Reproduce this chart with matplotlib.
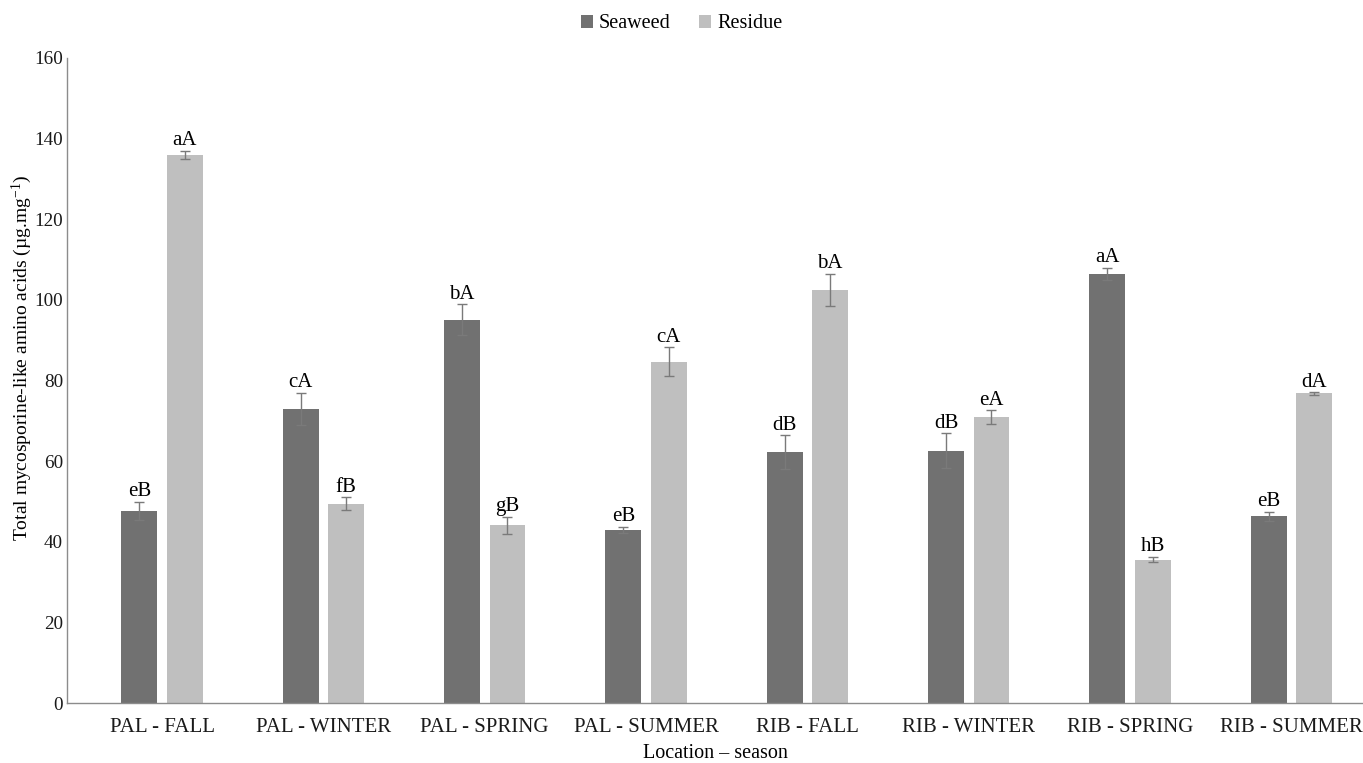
import numpy as np
import matplotlib.pyplot as plt

plt.rcParams['font.family'] = ['Liberation Serif', 'DejaVu Serif']
plt.rcParams['mathtext.fontset'] = 'custom'
plt.rcParams['mathtext.rm'] = 'Liberation Serif'
plt.rcParams['mathtext.default'] = 'regular'

# Total MAAs per location/season
categories = ['PAL - FALL', 'PAL - WINTER', 'PAL - SPRING', 'PAL - SUMMER',
              'RIB - FALL', 'RIB - WINTER', 'RIB - SPRING', 'RIB - SUMMER']
seaweed = [47.6, 72.9, 95.1, 42.9, 62.2, 62.6, 106.4, 46.3]
seaweed_err = [2.3, 4.0, 3.8, 0.8, 4.2, 4.3, 1.5, 1.2]
residue = [135.9, 49.4, 44.1, 84.7, 102.5, 70.9, 35.6, 76.8]
residue_err = [1.0, 1.6, 2.1, 3.5, 3.9, 1.7, 0.7, 0.3]
seaweed_lbl = ['eB', 'cA', 'bA', 'eB', 'dB', 'dB', 'aA', 'eB']
residue_lbl = ['aA', 'fB', 'gB', 'cA', 'bA', 'eA', 'hB', 'dA']

fig = plt.figure(figsize=(13.63, 7.63), dpi=100)
ax = fig.add_axes([0.0492, 0.0786, 0.9508, 0.8454])

x = np.arange(len(categories))
w = 0.222
off = 0.141
err_kw = dict(ecolor='#7a7a7a', elinewidth=1.0, capsize=3.5, capthick=1.0)
ax.bar(x - off, seaweed, w, yerr=seaweed_err, color='#717171', label='Seaweed',
       error_kw=err_kw, zorder=2)
ax.bar(x + off, residue, w, yerr=residue_err, color='#bfbfbf', label='Residue',
       error_kw=err_kw, zorder=2)

# significance letters above the error bars
for i in range(len(categories)):
    ax.annotate(seaweed_lbl[i], (x[i] - off, seaweed[i] + seaweed_err[i]),
                xytext=(0, 0.5), textcoords='offset points',
                ha='center', va='bottom', fontsize=15)
    ax.annotate(residue_lbl[i], (x[i] + off, residue[i] + residue_err[i]),
                xytext=(0, 0.5), textcoords='offset points',
                ha='center', va='bottom', fontsize=15)

ax.set_xlim(-0.589, 7.444)
ax.set_ylim(0, 160)
ax.set_yticks(np.arange(0, 161, 20))
ax.set_xticks(x)
ax.set_xticklabels(categories)
ax.tick_params(axis='both', length=0, colors='#1a1a1a')
ax.tick_params(axis='x', pad=11, labelsize=15)
ax.tick_params(axis='y', pad=3, labelsize=13.8)

for s in ['top', 'right']:
    ax.spines[s].set_visible(False)
for s in ['left', 'bottom']:
    ax.spines[s].set_color('#8c8c8c')
    ax.spines[s].set_linewidth(1.0)

ax.set_xlabel('Location \u2013 season', fontsize=14.5, labelpad=5)
fig.text(22 / 1363, 1 - 358 / 763,
         'Total mycosporine-like amino acids (\u00b5g.mg$^{-1}$)',
         rotation=90, ha='center', va='center', fontsize=14)

fig.legend(loc='upper center', bbox_to_anchor=(0.5, 1.005), ncol=2, frameon=False,
           fontsize=14.5, handlelength=0.6, handleheight=0.6, handletextpad=0.3,
           columnspacing=1.4)

fig.savefig('out.png', dpi=100)
